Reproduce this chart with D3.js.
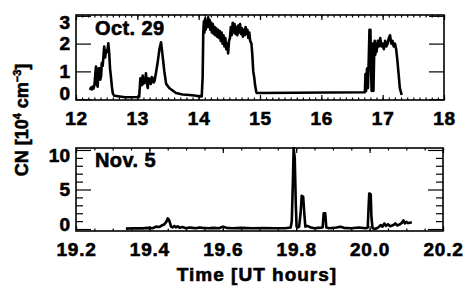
<!DOCTYPE html>
<html>
<head>
<meta charset="utf-8">
<script src="https://cdn.jsdelivr.net/npm/d3@7"></script>
<style>
  body { margin: 0; background: #fff; }
  svg { display: block; }
  text { font-family: "Liberation Sans", Arial, Helvetica, sans-serif; font-weight: bold; fill: #000; stroke: #000; stroke-width: 0.6px; }
</style>
</head>
<body>
<script>
// Oct. 29 CN record (UT hours, 10^4 cm^-3)
var octTime = [12.228, 12.245, 12.26, 12.272, 12.285, 12.3, 12.315, 12.326, 12.34, 12.353, 12.365, 12.38, 12.395, 12.41, 12.42, 12.435, 12.45, 12.46, 12.475, 12.49, 12.51, 12.527, 12.543, 12.555, 12.57, 12.585, 12.6, 12.625, 12.8, 13.03,
  13.05, 13.07, 13.087, 13.1, 13.11, 13.125, 13.14, 13.155, 13.17, 13.185, 13.2, 13.22, 13.235, 13.25, 13.265, 13.28, 13.3, 13.33, 13.36, 13.386, 13.41, 13.44, 13.47, 13.52, 13.58, 13.63, 13.74, 13.85, 13.96, 14.05,
  14.065, 14.075, 14.085, 14.095, 14.105, 14.115, 14.125, 14.14, 14.155, 14.165, 14.18, 14.19, 14.205, 14.215, 14.23, 14.245, 14.26, 14.27, 14.285, 14.3, 14.315, 14.33, 14.345, 14.36, 14.375, 14.39, 14.405, 14.42, 14.435, 14.45, 14.465, 14.48, 14.495, 14.51, 14.525, 14.54, 14.555, 14.57, 14.585, 14.6, 14.615, 14.63, 14.645, 14.66, 14.675, 14.69, 14.705, 14.72, 14.735, 14.75, 14.765, 14.78, 14.795, 14.81, 14.825, 14.84, 14.86, 14.875, 14.89, 14.905, 14.92, 14.94, 14.95,
  16.71, 16.72, 16.73, 16.745, 16.76, 16.775, 16.785, 16.8, 16.81, 16.82, 16.83, 16.84, 16.85, 16.86, 16.87, 16.88, 16.89, 16.9, 16.92, 16.94, 16.96, 16.98, 17.0, 17.02, 17.04, 17.06, 17.08, 17.1, 17.12, 17.14, 17.16, 17.18, 17.2, 17.22, 17.24, 17.26, 17.28, 17.31];
var octValue = [0.33, 0.42, 0.35, 0.45, 0.38, 0.5, 0.9, 1.17, 0.55, 0.45, 1.1, 1.12, 0.7, 0.85, 1.3, 1.2, 1.6, 1.89, 1.5, 1.75, 1.7, 2.01, 1.6, 1.1, 0.8, 0.45, 0.21, 0.12, 0.07, 0.08,
  0.75, 0.5, 0.85, 0.55, 0.7, 0.6, 0.93, 0.6, 0.4, 0.75, 0.7, 0.55, 0.8, 0.75, 0.6, 0.65, 0.9, 1.3, 1.8, 2.05, 1.6, 1.0, 0.55, 0.4, 0.3, 0.22, 0.17, 0.15, 0.12, 0.1,
  0.8, 2.4, 2.8, 2.4, 2.9, 2.5, 2.8, 2.6, 2.95, 2.6, 2.85, 2.5, 2.75, 2.4, 2.7, 2.35, 2.6, 2.3, 2.55, 2.25, 2.5, 2.2, 2.45, 2.1, 2.4, 2.0, 2.3, 1.9, 2.2, 1.8, 2.0, 1.65, 2.1, 2.2, 2.6, 2.3, 2.75, 2.4, 2.7, 2.35, 2.6, 2.3, 2.65, 2.4, 2.7, 2.35, 2.55, 2.25, 2.5, 2.3, 2.6, 2.35, 2.5, 2.2, 2.4, 2.1, 2.0, 1.6, 1.0, 0.8, 0.5, 0.25, 0.22,
  0.25, 0.9, 0.3, 1.1, 0.4, 1.6, 2.5, 2.5, 1.2, 0.3, 1.0, 2.0, 0.3, 1.5, 2.1, 1.6, 2.0, 1.7, 2.1, 1.9, 2.2, 1.9, 2.0, 1.8, 2.1, 1.9, 2.0, 2.2, 2.3, 2.0, 2.1, 1.9, 2.0, 1.8, 1.4, 0.9, 0.4, 0.15];

// Nov. 5 CN record
var novTime = [19.336, 19.36, 19.382, 19.395, 19.409, 19.418, 19.427, 19.434, 19.441, 19.446, 19.45, 19.454, 19.459, 19.463, 19.468, 19.472, 19.477, 19.482, 19.49, 19.5, 19.509, 19.518, 19.527, 19.536, 19.545, 19.56, 19.575, 19.59, 19.6, 19.61, 19.625, 19.65, 19.68, 19.71, 19.74, 19.77, 19.785,
  19.788, 19.791, 19.793, 19.796, 19.799, 19.801, 19.806, 19.808, 19.812, 19.815, 19.819, 19.822, 19.825, 19.83, 19.84, 19.85, 19.86, 19.872, 19.875, 19.879, 19.882, 19.89, 19.91, 19.92, 19.93, 19.95, 19.97, 19.99, 19.995,
  19.997, 19.999, 20.003, 20.005, 20.008, 20.015, 20.024, 20.03, 20.035, 20.04, 20.045, 20.05, 20.056, 20.065, 20.07, 20.075, 20.083, 20.088, 20.092, 20.096, 20.1, 20.105, 20.11, 20.115];
var novValue = [0.05, 0.1, 0.08, 0.15, 0.1, 0.3, 0.25, 0.45, 0.6, 0.9, 1.35, 1.1, 0.3, 0.2, 0.4, 0.2, 0.35, 0.15, 0.25, 0.1, 0.2, 0.15, 0.1, 0.2, 0.15, 0.1, 0.15, 0.1, 0.3, 0.15, 0.1, 0.15, 0.1, 0.12, 0.1, 0.1, 0.2,
  1.0, 6.0, 10.2, 9.0, 3.0, 0.3, 0.2, 0.3, 2.0, 4.2, 4.1, 2.0, 0.3, 0.4, 0.2, 0.1, 0.15, 0.2, 2.0, 2.0, 0.2, 0.1, 0.2, 0.3, 0.15, 0.1, 0.2, 0.1, 0.2,
  2.5, 4.5, 4.4, 1.5, 0.1, 0.0, 0.2, 0.5, 0.3, 0.7, 0.4, 0.6, 0.35, 0.5, 0.7, 0.45, 0.6, 0.8, 1.1, 0.7, 0.9, 0.75, 0.8, 0.85];

var octTicks = [12, 13, 14, 15, 16, 17, 18];
var octYTicks = [0, 1, 2, 3];
var novTicks = [19.2, 19.4, 19.6, 19.8, 20.0, 20.2];
var novYTicks = [0, 5, 10];

var svgWidth = 466, svgHeight = 286;
var svg = d3.select("body").append("svg").attr("width", svgWidth).attr("height", svgHeight);

var left = 76;

// draws one framed panel with ticks on all four sides
function panel(cfg) {
  var x = d3.scaleLinear().domain(cfg.xDomain).range([left, cfg.right]);
  var y = d3.scaleLinear().domain(cfg.yDomain).range([cfg.bottom, cfg.top]);
  var g = svg.append("g");

  // bottom major ticks + labels
  g.append("g")
    .attr("transform", "translate(0," + cfg.bottom + ")")
    .call(d3.axisBottom(x).tickValues(cfg.xTicks).tickSize(-5).tickPadding(12).tickFormat(cfg.xFmt))
    .call(function(a) {
      a.selectAll("text").style("font-size", "19px").style("letter-spacing", "0.8px");
    });
  // bottom minor ticks
  g.append("g")
    .attr("transform", "translate(0," + cfg.bottom + ")")
    .call(d3.axisBottom(x).tickValues(cfg.xMinor).tickSize(-2.5).tickFormat(""));
  // top ticks
  g.append("g")
    .attr("transform", "translate(0," + cfg.top + ")")
    .call(d3.axisTop(x).tickValues(cfg.xTicks).tickSize(-5).tickFormat(""));
  g.append("g")
    .attr("transform", "translate(0," + cfg.top + ")")
    .call(d3.axisTop(x).tickValues(cfg.xMinor).tickSize(-2.5).tickFormat(""));

  // left ticks + labels
  g.append("g")
    .attr("transform", "translate(" + left + ",0)")
    .call(d3.axisLeft(y).tickValues(cfg.yTicks).tickSize(-15).tickPadding(6).tickFormat(d3.format("d")))
    .call(function(a) {
      a.selectAll("text").style("font-size", "19px")
        .attr("transform", function(d) {
          // IDL keeps the end labels inside the frame
          var yy = y(d), c = Math.max(cfg.top + 7, Math.min(cfg.bottom - 7, yy));
          return "translate(0," + (c - yy) + ")";
        });
    });
  g.append("g")
    .attr("transform", "translate(" + cfg.right + ",0)")
    .call(d3.axisRight(y).tickValues(cfg.yTicks).tickSize(-15).tickFormat(""));
  if (cfg.yMinor) {
    g.append("g")
      .attr("transform", "translate(" + left + ",0)")
      .call(d3.axisLeft(y).tickValues(cfg.yMinor).tickSize(-7).tickFormat(""));
    g.append("g")
      .attr("transform", "translate(" + cfg.right + ",0)")
      .call(d3.axisRight(y).tickValues(cfg.yMinor).tickSize(-7).tickFormat(""));
  }

  g.selectAll(".domain").remove();
  g.selectAll(".tick line").attr("stroke", "#000").attr("stroke-width", 1.2);

  // frame
  g.append("rect")
    .attr("x", left).attr("y", cfg.top)
    .attr("width", cfg.right - left).attr("height", cfg.bottom - cfg.top)
    .attr("fill", "none").attr("stroke", "#000").attr("stroke-width", 1.6);

  // data
  var line = d3.line()
    .x(function(d) { return x(d[0]); })
    .y(function(d) { return y(Math.min(d[1], cfg.yDomain[1])); });
  g.append("path")
    .datum(d3.zip(cfg.t, cfg.v))
    .attr("d", line)
    .attr("fill", "none").attr("stroke", "#000")
    .attr("stroke-width", 2.6).attr("stroke-linejoin", "round");

  g.append("text")
    .attr("x", 95).attr("y", cfg.labelY)
    .style("font-size", "20px").style("letter-spacing", "0.4px")
    .text(cfg.label);
}

panel({
  xDomain: [12, 18], yDomain: [-0.03, 3.03],
  top: 15, bottom: 100, right: 444,
  xTicks: octTicks, xMinor: d3.range(120, 181).map(function(i) { return i / 10; }),
  yTicks: octYTicks, xFmt: d3.format("d"),
  t: octTime, v: octValue, label: "Oct. 29", labelY: 35
});

panel({
  xDomain: [19.2, 20.2], yDomain: [-0.25, 10.25],
  top: 148, bottom: 231, right: 443,
  xTicks: novTicks, xMinor: d3.range(384, 405).map(function(i) { return i / 20; }),
  yTicks: novYTicks, yMinor: [1, 2, 3, 4, 6, 7, 8, 9], xFmt: d3.format(".1f"),
  t: novTime, v: novValue, label: "Nov. 5", labelY: 167
});

// axis titles
svg.append("text")
  .attr("text-anchor", "middle")
  .attr("transform", "translate(28,120)rotate(-90)")
  .style("font-size", "18px")
  .html('CN [10<tspan dy="-7" font-size="11px">4</tspan><tspan dy="7"> cm</tspan><tspan dy="-7" font-size="11px">\u22123</tspan><tspan dy="7">]</tspan>');

svg.append("text")
  .attr("text-anchor", "middle")
  .attr("x", 257).attr("y", 281)
  .style("font-size", "19px").style("letter-spacing", "1px")
  .text("Time [UT hours]");
</script>
</body>
</html>
